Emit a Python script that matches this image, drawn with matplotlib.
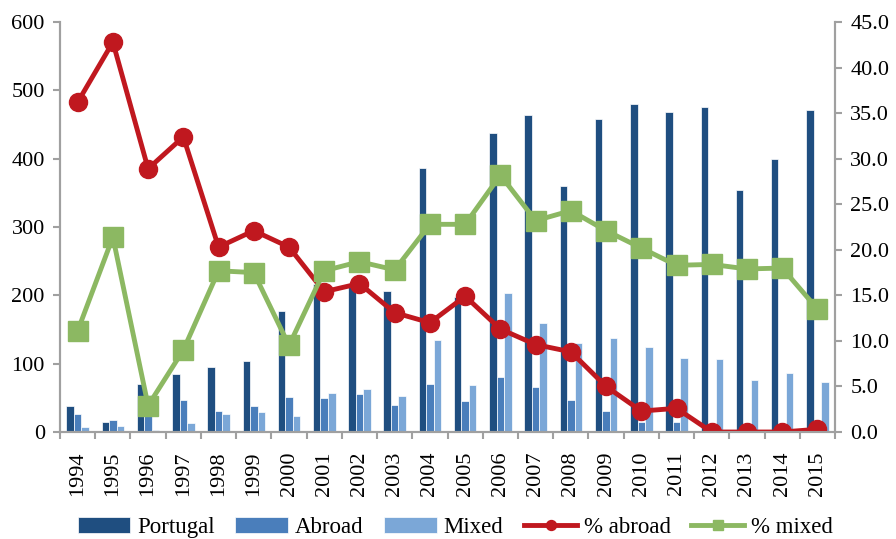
import matplotlib.pyplot as plt
import numpy as np

plt.rcParams['font.family'] = ['Liberation Serif', 'DejaVu Serif']

years = [str(y) for y in range(1994, 2016)]

portugal = [38, 15, 71, 85, 95, 104, 177, 216, 216, 207, 386, 198, 437, 464,
            360, 458, 480, 469, 476, 354, 399, 471]
abroad = [26, 18, 54, 47, 31, 38, 51, 50, 55, 39, 71, 45, 80, 66,
          47, 31, 14, 15, 0, 0, 0, 1]
mixed = [8, 9, 3, 13, 27, 29, 24, 57, 63, 53, 135, 69, 203, 159,
         130, 138, 124, 108, 107, 76, 87, 73]

pct_abroad = [36.2, 42.8, 28.9, 32.4, 20.3, 22.1, 20.3, 15.4, 16.3, 13.1, 12.0,
              14.9, 11.3, 9.6, 8.8, 5.0, 2.3, 2.6, 0.0, 0.0, 0.0, 0.3]
pct_mixed = [11.1, 21.4, 2.9, 9.0, 17.7, 17.5, 9.5, 17.7, 18.7, 17.8, 22.8,
             22.8, 28.2, 23.2, 24.3, 22.1, 20.2, 18.3, 18.4, 17.9, 18.0, 13.5]

c_port = '#1F4E80'
c_abr = '#4A7EBB'
c_mix = '#7BA7D7'
c_red = '#C0181F'
c_green = '#8CB862'
grey = '#A0A0A0'

fig = plt.figure(figsize=(8.96, 5.39), dpi=100)
ax = fig.add_axes([0.067, 0.1985, 0.865, 0.7605])
ax2 = ax.twinx()

x = np.arange(len(years))
w = 0.213
b1 = ax.bar(x - w, portugal, w, color=c_port, edgecolor='white', linewidth=0.5, label='Portugal')
b2 = ax.bar(x, abroad, w, color=c_abr, edgecolor='white', linewidth=0.5, label='Abroad')
b3 = ax.bar(x + w, mixed, w, color=c_mix, edgecolor='white', linewidth=0.5, label='Mixed')

l1, = ax2.plot(x, pct_abroad, color=c_red, lw=3.5, marker='o', ms=13, label='% abroad')
l2, = ax2.plot(x, pct_mixed, color=c_green, lw=3.5, marker='s', ms=14, label='% mixed')

ax.set_xlim(-0.5, len(years) - 0.5)
ax.set_ylim(0, 600)
ax2.set_ylim(0, 45)
ax.set_yticks(range(0, 601, 100))
ax2.set_yticks(np.arange(0, 45.1, 5))
ax2.set_yticklabels([f'{v:.1f}' for v in np.arange(0, 45.1, 5)])

ax.set_xticks(x)
ax.set_xticklabels(years, rotation=90)
ax.set_xticks(np.arange(-0.5, len(years), 1), minor=True)
ax.tick_params(axis='x', which='major', length=0, pad=14, labelsize=16)
ax.tick_params(axis='x', which='minor', length=5, color=grey, width=1.5)
ax.tick_params(axis='y', length=5, color=grey, width=1.5, labelsize=16, pad=6)
ax2.tick_params(axis='y', length=5, color=grey, width=1.5, labelsize=16, pad=6)

for a in (ax, ax2):
    a.spines['top'].set_visible(False)
    for s in ('left', 'right', 'bottom'):
        a.spines[s].set_color(grey)
        a.spines[s].set_linewidth(1.5)

fig.legend([b1, b2, b3, l1, l2], ['Portugal', 'Abroad', 'Mixed', '% abroad', '% mixed'],
           loc='center', bbox_to_anchor=(0.508, 0.022), ncol=5, frameon=False,
           fontsize=16.5, handlelength=2.3, handletextpad=0.3, columnspacing=0.9,
           markerscale=0.55)

fig.savefig('out.png', dpi=100)
